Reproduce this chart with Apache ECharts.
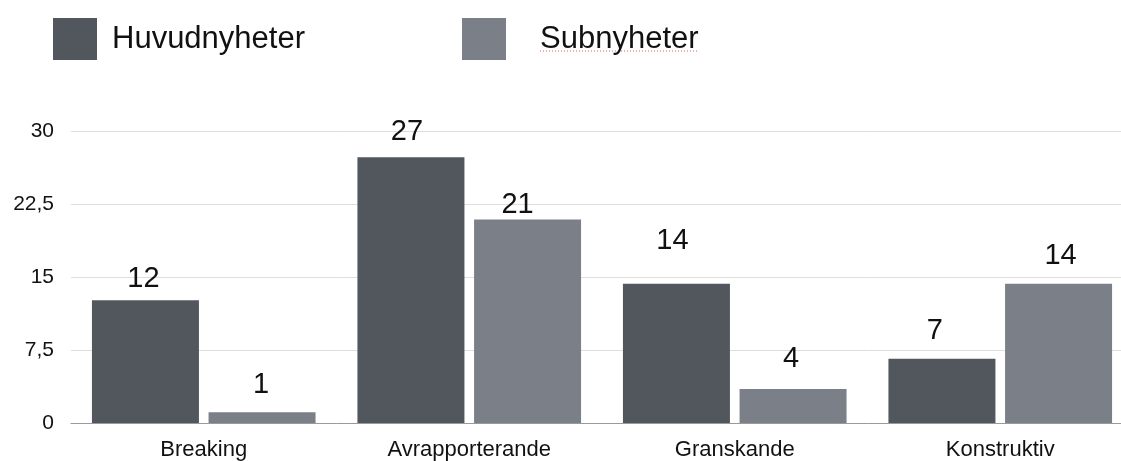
<!DOCTYPE html>
<html>
<head>
<meta charset="utf-8">
<script src="https://cdn.jsdelivr.net/npm/echarts@6/dist/echarts.min.js"></script>
<style>
  html, body { margin: 0; padding: 0; background: #fff; overflow: hidden; }
  #box { width: 1140px; height: 461px; }
</style>
</head>
<body>
<div id="box"></div>
<script>
// data
var categories = ['Breaking', 'Avrapporterande', 'Granskande', 'Konstruktiv'];
// bar heights as drawn
var huvudnyheter = [12.6, 27.3, 14.3, 6.6];
var subnyheter = [1.1, 20.9, 3.5, 14.3];
// numbers printed above the bars
var huvudLabels = [12, 27, 14, 7];
var subLabels = [1, 21, 4, 14];
var yTicks = [0, 7.5, 15, 22.5, 30];

// label placement (the original has hand-placed labels)
var huvudLabelOffset = [[-2, -7], [-4, -11], [-4, -28], [-7, -13]];
var subLabelOffset = [[-1, -13], [-10, 0], [-2, -15], [2, -13]];

var font = '"Liberation Sans", Arial, Helvetica, sans-serif';

function buildSeries(values, labels, offsets) {
    return values.map(function (v, i) {
        return {
            value: v,
            label: {
                offset: offsets[i],
                formatter: String(labels[i])
            }
        };
    });
}

var myChart = echarts.init(document.getElementById('box'));
var option = {
    animation: false,
    textStyle: { fontFamily: font },
    legend: [{
        data: ['Huvudnyheter'],
        left: 48,
        top: 13,
        itemWidth: 44,
        itemHeight: 42,
        icon: 'rect',
        textStyle: { fontSize: 31, color: '#111', fontFamily: font, padding: [0, 0, 0, 10] }
    }, {
        data: ['Subnyheter'],
        left: 457,
        top: 13,
        itemWidth: 44,
        itemHeight: 42,
        icon: 'rect',
        textStyle: { fontSize: 31, color: '#111', fontFamily: font, padding: [0, 0, 0, 29] }
    }],
    // spell-check squiggle under "Subnyheter" in the original screenshot
    graphic: [{
        type: 'line',
        shape: { x1: 540, y1: 51, x2: 698, y2: 51 },
        style: { stroke: '#e06060', lineWidth: 1, lineDash: [1, 2] },
        silent: true
    }],
    grid: {
        left: 71,
        top: 131,
        width: 1062,
        height: 294.5,
        containLabel: false
    },
    xAxis: {
        type: 'category',
        data: categories,
        axisTick: { show: false },
        axisLine: { lineStyle: { color: '#9a9a9a', width: 1 } },
        axisLabel: { fontSize: 22, color: '#111', margin: 16, fontFamily: font }
    },
    yAxis: {
        type: 'value',
        min: yTicks[0],
        max: yTicks[yTicks.length - 1],
        interval: yTicks[1] - yTicks[0],
        axisLine: { show: false },
        axisTick: { show: false },
        splitLine: { lineStyle: { color: '#dedede', width: 1 } },
        axisLabel: {
            fontSize: 21,
            color: '#111',
            margin: 17,
            fontFamily: font,
            formatter: function (v) { return String(v).replace('.', ','); }
        }
    },
    series: [{
        name: 'Huvudnyheter',
        type: 'bar',
        barWidth: 107,
        barGap: '9%',
        itemStyle: { color: '#52575e' },
        label: { show: true, position: 'top', distance: 0, fontSize: 29, color: '#111', fontFamily: font },
        data: buildSeries(huvudnyheter, huvudLabels, huvudLabelOffset)
    }, {
        name: 'Subnyheter',
        type: 'bar',
        barWidth: 107,
        itemStyle: { color: '#7b8088' },
        label: { show: true, position: 'top', distance: 0, fontSize: 29, color: '#111', fontFamily: font },
        data: buildSeries(subnyheter, subLabels, subLabelOffset)
    }]
};

myChart.setOption(option);
</script>
</body>
</html>
